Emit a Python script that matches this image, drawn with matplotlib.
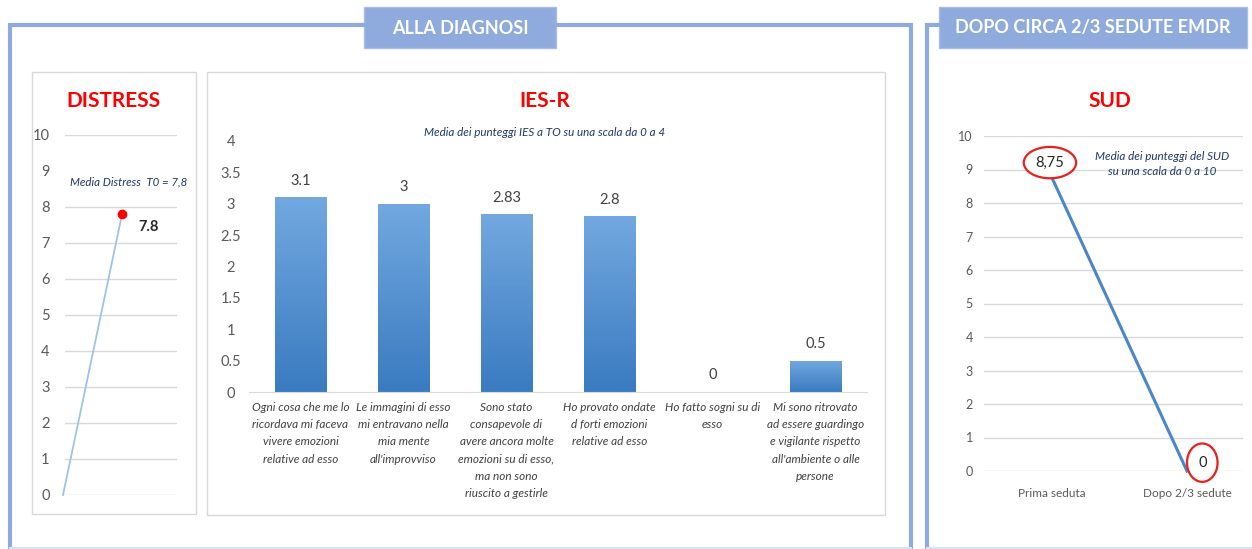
import numpy as np
import matplotlib.pyplot as plt
from matplotlib.lines import Line2D
from matplotlib.patches import Rectangle
from matplotlib.colors import LinearSegmentedColormap
from matplotlib.ticker import FuncFormatter

plt.rcParams['font.family'] = ['Lato', 'DejaVu Sans']

# dati
distress_x = [0, 1]
distress_y = [0, 7.8]
distress_ticks = list(range(0, 11))

ies_labels = [
    "Ogni cosa che me lo\nricordava mi faceva\nvivere emozioni\nrelative ad esso",
    "Le immagini di esso\nmi entravano nella\nmia mente\nall'improvviso",
    "Sono stato\nconsapevole di\navere ancora molte\nemozioni su di esso,\nma non sono\nriuscito a gestirle",
    "Ho provato ondate\nd forti emozioni\nrelative ad esso",
    "Ho fatto sogni su di\nesso",
    "Mi sono ritrovato\nad essere guardingo\ne vigilante rispetto\nall'ambiente o alle\npersone",
]
ies_values = [3.1, 3, 2.83, 2.8, 0, 0.5]
ies_ticks = [0, 0.5, 1, 1.5, 2, 2.5, 3, 3.5, 4]

sud_labels = ["Prima seduta", "Dopo 2/3 sedute"]
sud_values = [8.75, 0]
sud_ticks = list(range(0, 11))

# colori
frame = '#8FAADC'
grid = '#D9D9D9'
gray = '#595959'
navy = '#1F3864'

W, H = 1252, 549
fig = plt.figure(figsize=(W / 100, H / 100), dpi=100)


def box(x0, y0, x1, y1):
    # pixel (dall'alto) -> coordinate figura
    return [x0 / W, 1 - y1 / H, (x1 - x0) / W, (y1 - y0) / H]


def fx(x):
    return x / W


def fy(y):
    return 1 - y / H


def fline(xs, ys, **kw):
    fig.add_artist(Line2D([fx(v) for v in xs], [fy(v) for v in ys], **kw))


def frect(x0, y0, x1, y1, **kw):
    fig.add_artist(Rectangle((fx(x0), fy(y1)), (x1 - x0) / W, (y1 - y0) / H,
                             transform=fig.transFigure, **kw))


# cornici
fline([10, 10, 364], [549, 25, 25], color=frame, lw=3, solid_joinstyle='miter')
fline([556, 911, 911], [25, 25, 549], color=frame, lw=3, solid_joinstyle='miter')
fline([927, 927, 939], [549, 25, 25], color=frame, lw=3, solid_joinstyle='miter')
fline([10, 911], [548, 548], color='#DAE3F3', lw=1.5)
fline([927, 1252], [548, 548], color='#DAE3F3', lw=1.5)

frect(364, 7, 556, 48, facecolor=frame, edgecolor='#A9BEE6', lw=1)
fig.text(fx(460), fy(28), "ALLA DIAGNOSI", color='white', fontsize=13,
         fontweight='bold', ha='center', va='center')
frect(939, 7, 1247, 48, facecolor=frame, edgecolor='#A9BEE6', lw=1)
fig.text(fx(1093), fy(28), "DOPO CIRCA 2/3 SEDUTE EMDR", color='white', fontsize=13,
         fontweight='bold', ha='center', va='center')

# riquadri dei grafici
frect(32, 72, 196, 514, facecolor='none', edgecolor=grid, lw=1)
frect(207, 72, 885, 515, facecolor='none', edgecolor=grid, lw=1)

# ---- DISTRESS ----
ax1 = fig.add_axes(box(65, 135, 177, 495))
ax1.set_xlim(0.034, 1.93)
ax1.set_ylim(0, 10)
ax1.set_yticks(distress_ticks)
ax1.set_xticks([])
for s in ax1.spines.values():
    s.set_visible(False)
ax1.yaxis.grid(True, color=grid, lw=1)
ax1.set_axisbelow(True)
ax1.tick_params(axis='y', length=0, pad=11, labelsize=10.5, labelcolor=gray)
ax1.plot(distress_x, distress_y, color='#9DC3E6', lw=1.3, clip_on=False, zorder=3)
ax1.plot(distress_x[-1], distress_y[-1], 'o', color='#FF0000', ms=6, zorder=4)
ax1.annotate(f"{distress_y[-1]:g}", (distress_x[-1], distress_y[-1]), xytext=(19, -9),
             textcoords='offset points', ha='center', va='center',
             fontsize=10.5, fontweight='bold', color='#262626')
fig.text(fx(113), fy(101), "DISTRESS", color='#FF0000', fontsize=15,
         fontweight='bold', ha='center', va='center')
fig.text(fx(129), fy(182), "Media Distress  T0 = " + str(distress_y[-1]).replace('.', ','),
         color=navy, fontsize=8.3, style='italic', ha='center', va='center',
         bbox=dict(facecolor='white', edgecolor='none', pad=5))

# ---- IES-R ----
ax2 = fig.add_axes(box(249, 141, 867, 392))
xpos = np.arange(len(ies_values))
bars = ax2.bar(xpos, ies_values, width=0.5, color='none', zorder=2)
cmap = LinearSegmentedColormap.from_list('ies', ['#3A7BC1', '#72A8DF'])
grad = np.linspace(0, 1, 100).reshape(-1, 1)
for b, v in zip(bars, ies_values):
    if v <= 0:
        continue
    im = ax2.imshow(grad, extent=[b.get_x(), b.get_x() + b.get_width(), 0, v],
                    origin='lower', cmap=cmap, aspect='auto', zorder=2)
    im.set_clip_path(b)
for xi, v in zip(xpos, ies_values):
    ax2.annotate(f"{v:g}", (xi, v), xytext=(0, 7), textcoords='offset points',
                 ha='center', va='bottom', fontsize=10.5, color='#404040')
ax2.set_xlim(-0.5, len(ies_values) - 0.5)
ax2.set_ylim(0, 4)
ax2.set_yticks(ies_ticks)
ax2.yaxis.set_major_formatter(FuncFormatter(lambda v, p: f"{v:g}"))
ax2.set_xticks(xpos)
ax2.set_xticklabels(ies_labels, fontsize=8.5, style='italic', color='#404040',
                    linespacing=1.7, va='top')
for s in ['top', 'right', 'left']:
    ax2.spines[s].set_visible(False)
ax2.spines['bottom'].set_color(grid)
ax2.tick_params(axis='x', length=0, pad=7)
ax2.tick_params(axis='y', length=0, pad=13, labelsize=10.5, labelcolor=gray)
for lab in ax2.get_yticklabels():
    lab.set_horizontalalignment('center')
fig.text(fx(545), fy(101), "IES-R", color='#FF0000', fontsize=15,
         fontweight='bold', ha='center', va='center')
fig.text(fx(545), fy(133), "Media dei punteggi IES a TO su una scala da 0 a 4",
         color=navy, fontsize=8.4, style='italic', ha='center', va='center')

# ---- SUD ----
ax3 = fig.add_axes(box(984, 136, 1243, 471))
sx = np.arange(len(sud_values))
ax3.plot(sx, sud_values, color='#4A86C8', lw=2.2, clip_on=False, zorder=3)
ax3.set_xlim(-0.504, 1.415)
ax3.set_ylim(0, 10)
ax3.set_yticks(sud_ticks)
ax3.set_xticks(sx)
ax3.set_xticklabels(sud_labels)
for s in ax3.spines.values():
    s.set_visible(False)
ax3.yaxis.grid(True, color=grid, lw=1)
ax3.set_axisbelow(True)
ax3.tick_params(axis='y', length=0, pad=8, labelsize=9, labelcolor=gray)
ax3.tick_params(axis='x', length=0, pad=12, labelsize=8.5, labelcolor=gray)
sud_offsets = [(-1.5, 11), (11, 6)]
sud_pads = [0.28, 0.45]
for xi, v, off, pd in zip(sx, sud_values, sud_offsets, sud_pads):
    ax3.annotate(f"{v:g}".replace('.', ','), (xi, v), xytext=off,
                 textcoords='offset points', ha='center', va='center',
                 fontsize=10.5, color='#262626', zorder=5, annotation_clip=False,
                 bbox=dict(boxstyle=f'ellipse,pad={pd}', facecolor='white',
                           edgecolor='#E8201E', lw=1.6))
fig.text(fx(1110), fy(101), "SUD", color='#FF0000', fontsize=15,
         fontweight='bold', ha='center', va='center')
fig.text(fx(1162), fy(164), "Media dei punteggi del SUD\nsu una scala da 0 a 10",
         color=navy, fontsize=8.4, style='italic', ha='center', va='center',
         linespacing=1.4)

fig.savefig('out.png', dpi=100, facecolor='white')
